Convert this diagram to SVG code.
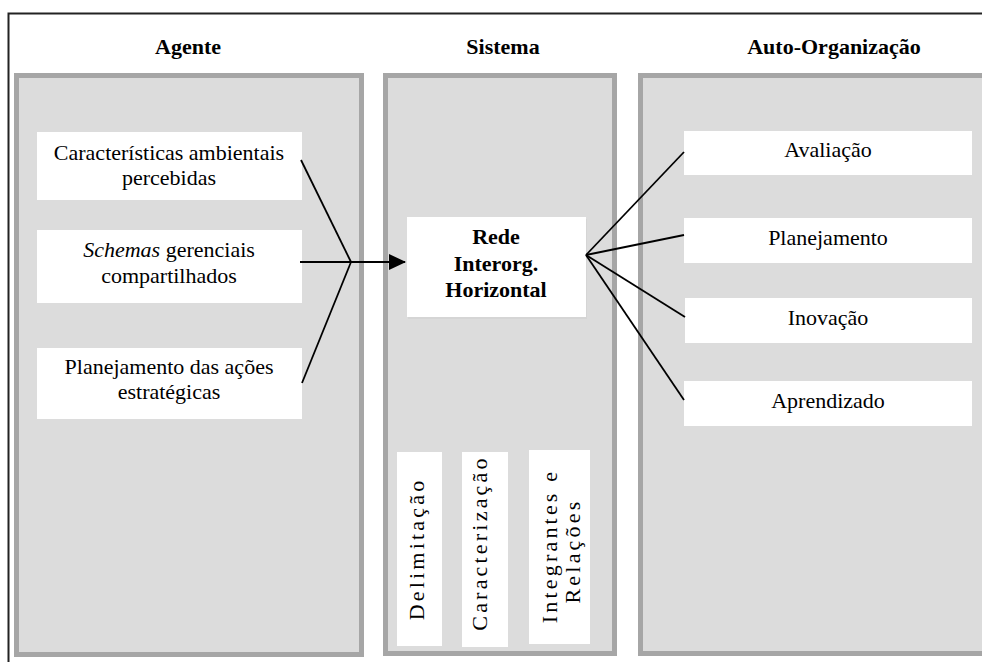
<svg xmlns="http://www.w3.org/2000/svg" width="982" height="662" viewBox="0 0 982 662" font-family="'Liberation Serif', 'Times New Roman', 'DejaVu Serif', serif">
<defs>
<style>
text{font-family:'Liberation Serif','Times New Roman','DejaVu Serif',serif;fill:#000;}
.h{font-size:22px;font-weight:bold;text-anchor:middle;}
.t{font-size:22px;text-anchor:middle;}
.b{font-size:22px;font-weight:bold;text-anchor:middle;}
.v{font-size:22px;text-anchor:middle;letter-spacing:3.2px;}
.panel{fill:#dcdcdc;stroke:#a6a6a6;stroke-width:5;}
.box{fill:#fff;}
.c{stroke:#000;stroke-width:1.8;fill:none;}
</style>
<marker id="arr" markerWidth="17" markerHeight="16" refX="16" refY="8" orient="auto" markerUnits="userSpaceOnUse" viewBox="0 0 17 16">
<path d="M0,0 L17,8 L0,16 z" fill="#000"/>
</marker>
</defs>
<rect width="982" height="662" fill="#fff"/>
<g id="frame">
<path d="M8.5,662 V13.5 H982" fill="none" stroke="#222" stroke-width="2"/>
</g>
<g id="headers">
<text class="h" x="188" y="54">Agente</text>
<text class="h" x="503" y="54">Sistema</text>
<text class="h" x="834" y="54">Auto-Organização</text>
</g>
<g id="panel-agente"><rect class="panel" x="16.5" y="75.5" width="345" height="579"/></g>
<g id="panel-sistema"><rect class="panel" x="385.5" y="75.5" width="229" height="578"/></g>
<g id="panel-auto"><rect class="panel" x="640.5" y="75.5" width="350" height="578"/></g>

<g id="node-caracteristicas">
<rect class="box" x="37" y="132" width="265" height="68"/>
<text class="t" x="169" y="160">Características ambientais</text>
<text class="t" x="169" y="185">percebidas</text>
</g>
<g id="node-schemas">
<rect class="box" x="37" y="230" width="265" height="73"/>
<text class="t" x="169" y="257"><tspan font-style="italic">Schemas</tspan> gerenciais</text>
<text class="t" x="169" y="283">compartilhados</text>
</g>
<g id="node-planejamento-acoes">
<rect class="box" x="37" y="348" width="265" height="71"/>
<text class="t" x="169" y="374">Planejamento das ações</text>
<text class="t" x="169" y="399">estratégicas</text>
</g>

<g id="node-rede">
<rect x="408" y="219" width="179" height="100" fill="#d0d0d0" opacity="0.6"/>
<rect class="box" x="407" y="217" width="179" height="100"/>
<text class="b" x="496" y="244">Rede</text>
<text class="b" x="496" y="271">Interorg.</text>
<text class="b" x="496" y="297">Horizontal</text>
</g>

<g id="node-delimitacao">
<rect class="box" x="397" y="452" width="45" height="194"/>
<text class="v" transform="translate(423.5,549) rotate(-90)">Delimitação</text>
</g>
<g id="node-caracterizacao">
<rect class="box" x="462" y="452" width="46" height="195"/>
<text class="v" transform="translate(486.5,543) rotate(-90)">Caracterização</text>
</g>
<g id="node-integrantes">
<rect class="box" x="529" y="450" width="61" height="194"/>
<text class="v" transform="translate(557,546) rotate(-90)">Integrantes e</text>
<text class="v" transform="translate(580,551) rotate(-90)">Relações</text>
</g>

<g id="node-avaliacao">
<rect class="box" x="684" y="131" width="288" height="44"/>
<text class="t" x="828" y="157">Avaliação</text>
</g>
<g id="node-planejamento">
<rect class="box" x="684" y="218" width="288" height="45"/>
<text class="t" x="828" y="245">Planejamento</text>
</g>
<g id="node-inovacao">
<rect class="box" x="685" y="298" width="287" height="45"/>
<text class="t" x="828" y="325">Inovação</text>
</g>
<g id="node-aprendizado">
<rect class="box" x="684" y="381" width="288" height="45"/>
<text class="t" x="828" y="408">Aprendizado</text>
</g>

<g id="connectors">
<line class="c" x1="301" y1="160" x2="351" y2="262"/>
<line class="c" x1="302" y1="383" x2="351" y2="262"/>
<line class="c" x1="300" y1="262" x2="405" y2="262" marker-end="url(#arr)"/>
<line class="c" x1="586" y1="255" x2="684" y2="152"/>
<line class="c" x1="586" y1="255" x2="684" y2="235"/>
<line class="c" x1="586" y1="255" x2="685" y2="317"/>
<line class="c" x1="586" y1="255" x2="684" y2="400"/>
</g>
</svg>
